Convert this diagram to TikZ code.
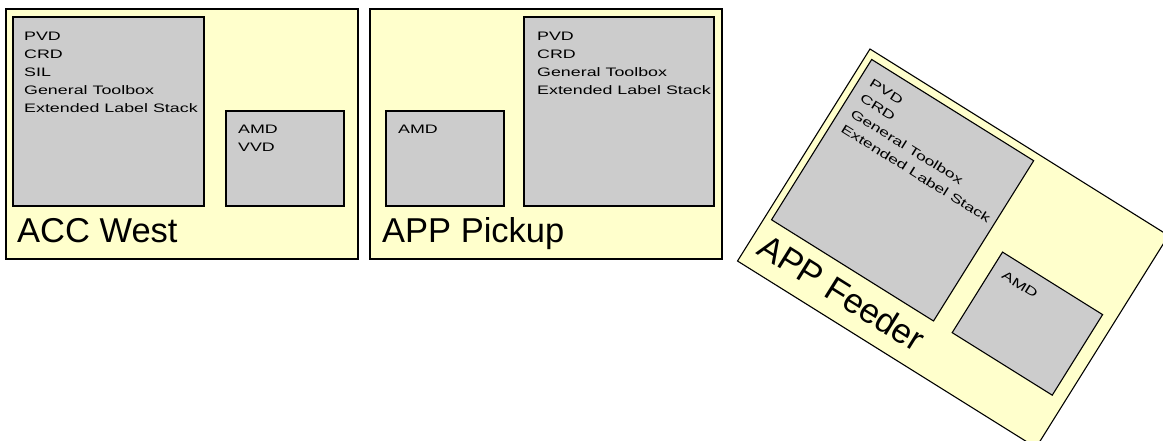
\documentclass[tikz,border=0pt]{standalone}
\usepackage{fontspec}
\setmainfont{Liberation Sans}
\newfontfamily\boxfont[FakeStretch=1.45]{Liberation Sans}
\definecolor{zonefill}{HTML}{FFFFCC}
\definecolor{groupfill}{HTML}{CCCCCC}
\begin{document}
\begin{tikzpicture}[x=1pt,y=1pt,
  zone/.style={draw=black, line width=1.1pt, fill=zonefill, anchor=north west,
    inner sep=0pt, outer sep=0pt, minimum width=352pt, minimum height=250pt},
  group/.style={draw=black, line width=1.1pt, fill=groupfill, anchor=north west,
    inner sep=0pt, outer sep=0pt},
  bigbox/.style={group, minimum width=191pt, minimum height=189pt},
  smallbox/.style={group, minimum width=118pt, minimum height=95pt},
  items/.style={font=\boxfont\fontsize{12.3}{18}\selectfont, align=left,
    anchor=north west, inner sep=0pt},
  zonename/.style={font=\fontsize{34.5}{40}\selectfont, anchor=base west,
    inner sep=0pt}]
\useasboundingbox (0,0) rectangle (1163,-441);
\clip (0,0) rectangle (1163,-441);

% ACC West
\begin{scope}[shift={(6,-9)}]
  \node[zone] (accw) at (0,0) {};
  \node[bigbox] (accwA) at (7,-8) {};
  \node[items] (accwAtext) at (18,-23) {PVD\\CRD\\SIL\\General Toolbox\\Extended Label Stack};
  \node[smallbox] (accwB) at (220,-102) {};
  \node[items] (accwBtext) at (232,-116) {AMD\\VVD};
  \node[zonename] (accwname) at (11,-234) {ACC West};
\end{scope}

% APP Pickup
\begin{scope}[shift={(370,-9)}]
  \node[zone] (appp) at (0,0) {};
  \node[smallbox] (apppB) at (16,-102) {};
  \node[items] (apppBtext) at (28,-116) {AMD};
  \node[bigbox, minimum width=190pt] (apppA) at (154,-8) {};
  \node[items] (apppAtext) at (167,-23) {PVD\\CRD\\General Toolbox\\Extended Label Stack};
  \node[zonename] (apppname) at (12,-234) {APP Pickup};
\end{scope}

% APP Feeder, turned
\begin{scope}[shift={(870,-49)}, rotate=-32, transform shape]
  \node[zone] (appf) at (0,0) {};
  \node[bigbox] (appfA) at (7,-8) {};
  \node[items] (appfAtext) at (18,-23) {PVD\\CRD\\General Toolbox\\Extended Label Stack};
  \node[smallbox] (appfB) at (220,-102) {};
  \node[items] (appfBtext) at (232,-116) {AMD};
  \node[zonename] (appfname) at (11,-234) {APP Feeder};
\end{scope}
\end{tikzpicture}
\end{document}
